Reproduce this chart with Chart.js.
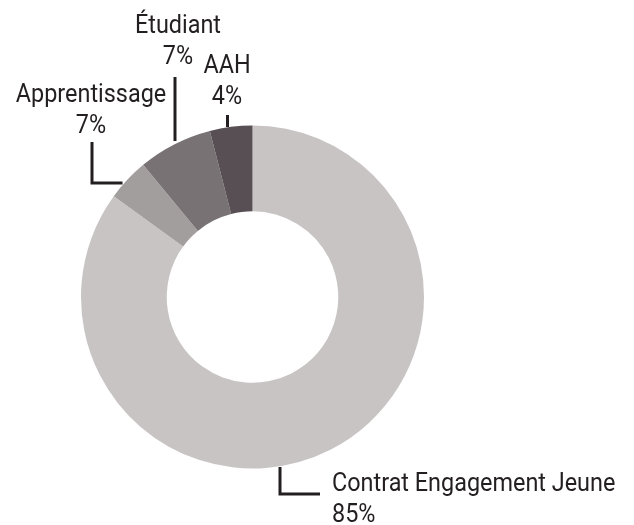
<!DOCTYPE html>
<html lang="fr">
<head>
<meta charset="utf-8">
<script src="https://cdn.jsdelivr.net/npm/chart.js@4.4.1/dist/chart.umd.min.js"></script>
<style>
  html, body { margin: 0; padding: 0; background: #fff; }
  #wrap { position: relative; width: 634px; height: 525px; }
</style>
</head>
<body>
<div id="wrap"><canvas id="chart"></canvas></div>
<script>
// Categories, clockwise from 12 o'clock
const categories = ['Contrat Engagement Jeune', 'Apprentissage', 'Étudiant', 'AAH'];
const sliceValues = [85, 4, 7, 4];
// Percent labels as printed on the figure
const percentLabels = ['85%', '7%', '7%', '4%'];

const sliceColors = ['#c9c4c4', '#a39e9e', '#787275', '#574f53'];
const inkColor = '#231f20';

// Label placement relative to the doughnut centre (dx, dy of first baseline),
// leader line as points relative to the centre, and text alignment
const labelLayout = [
    { dx: 79.5, dy: 193.5, align: 'left', line: [[27.5, 170], [27.5, 197], [67.5, 197]] },
    { dx: -161.5, dy: -195, align: 'center', line: [[-160.5, -155], [-160.5, -114], [-130, -114]] },
    { dx: -74.5, dy: -264, align: 'center', line: [[-77.5, -220], [-77.5, -156]] },
    { dx: -25.5, dy: -224, align: 'center', line: [[-25, -182], [-25, -170]] }
];

const FONT_SIZE = 26;
const LINE_GAP = 31;
const SQUEEZE = 0.9;

const calloutPlugin = {
    id: 'callouts',
    afterDatasetsDraw(chart) {
        const ctx = chart.ctx;
        const arc = chart.getDatasetMeta(0).data[0];
        const cx = arc.x, cy = arc.y;
        ctx.save();
        // leader lines
        ctx.strokeStyle = inkColor;
        ctx.lineWidth = 3;
        ctx.lineJoin = 'miter';
        labelLayout.forEach(l => {
            ctx.beginPath();
            l.line.forEach((p, i) => {
                if (i === 0) ctx.moveTo(cx + p[0], cy + p[1]);
                else ctx.lineTo(cx + p[0], cy + p[1]);
            });
            ctx.stroke();
        });
        // texts
        ctx.fillStyle = inkColor;
        ctx.font = FONT_SIZE + 'px Roboto';
        ctx.textBaseline = 'alphabetic';
        categories.forEach((name, i) => {
            const l = labelLayout[i];
            const lines = [name, percentLabels[i]];
            lines.forEach((txt, j) => {
                const w = ctx.measureText(txt).width * SQUEEZE;
                let x = cx + l.dx;
                if (l.align === 'center') x -= w / 2;
                const y = cy + l.dy + j * LINE_GAP;
                ctx.save();
                ctx.translate(x, y);
                ctx.scale(SQUEEZE, 1);
                ctx.textAlign = 'left';
                ctx.fillText(txt, 0, 0);
                ctx.restore();
            });
        });
        ctx.restore();
    }
};

new Chart(document.getElementById('chart'), {
    type: 'doughnut',
    data: {
        labels: categories,
        datasets: [{
            data: sliceValues,
            backgroundColor: sliceColors,
            borderWidth: 0
        }]
    },
    options: {
        responsive: true,
        maintainAspectRatio: false,
        animation: false,
        cutout: '50%',
        rotation: 0,
        layout: { padding: { left: 81, right: 210, top: 125.5, bottom: 56.5 } },
        plugins: {
            legend: { display: false },
            tooltip: { enabled: false }
        }
    },
    plugins: [calloutPlugin]
});
</script>
</body>
</html>
